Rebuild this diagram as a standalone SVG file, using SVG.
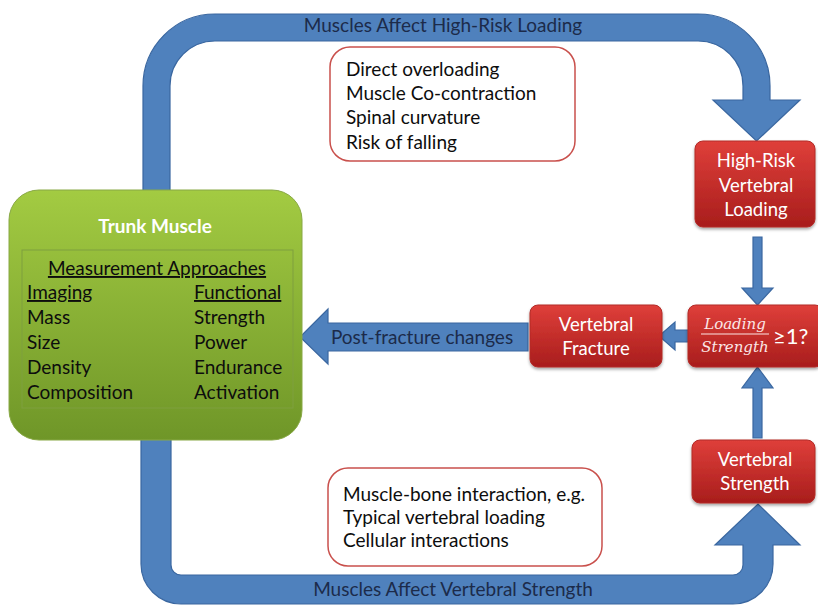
<svg xmlns="http://www.w3.org/2000/svg" width="818" height="605" viewBox="0 0 818 605">
<style>
.blue{fill:#4f81bd;stroke:#3a67a0;stroke-width:1.2}
.red{fill:url(#rg);stroke:#b22a26;stroke-width:1;filter:url(#sh)}
.wt{font-family:Lato,"Open Sans",sans-serif;font-size:18.5px;fill:#ffffff;text-anchor:middle}
.bt{font-family:Lato,"Open Sans",sans-serif;font-size:19px;fill:#0d0d0d}
.nt{font-family:Lato,"Open Sans",sans-serif;font-size:19px;fill:#1c2b4a;text-anchor:middle}
.note{fill:#ffffff;stroke:#c9504c;stroke-width:1.5}
.math{font-family:"DejaVu Serif","Liberation Serif",serif;font-style:italic;font-size:15px;fill:#fbe6e6;text-anchor:middle}
</style>
<defs>
<linearGradient id="rg" x1="0" y1="0" x2="0" y2="1">
<stop offset="0" stop-color="#df3f3a"/>
<stop offset="1" stop-color="#a81d1c"/>
</linearGradient>
<linearGradient id="gg" x1="0" y1="0" x2="0" y2="1">
<stop offset="0" stop-color="#a3cb42"/>
<stop offset="1" stop-color="#6f9628"/>
</linearGradient>
<filter id="sh" x="-10%" y="-10%" width="120%" height="130%">
<feDropShadow dx="0" dy="2" stdDeviation="1.5" flood-color="#000" flood-opacity="0.35"/>
</filter>
</defs>

<g id="connectors">
<path id="top-arrow" class="blue" d="M143 195 L143 86 A72 72 0 0 1 215 14 L698 14 A72 72 0 0 1 770 86 L770 100 L800 100 L756.5 141 L713 100 L743 100 L743 86 A45 45 0 0 0 698 41 L215 41 A45 45 0 0 0 170 86 L170 195 Z"/>
<text class="nt" x="443" y="32">Muscles Affect High-Risk Loading</text>
<path id="bottom-arrow" class="blue" d="M141 435 L141 564 A40 40 0 0 0 181 604 L733 604 A40 40 0 0 0 773 564 L773 545 L800 545 L758 504 L715 545 L743 545 L743 565 A10 10 0 0 1 733 575 L181 575 A10 10 0 0 1 171 565 L171 435 Z"/>
<text class="nt" x="453" y="596">Muscles Affect Vertebral Strength</text>
<path id="down-arrow" class="blue" d="M753 237 L762 237 L762 288 L773 288 L757.5 305 L742 288 L753 288 Z"/>
<path id="up-arrow" class="blue" d="M753 438 L762 438 L762 388 L773 388 L757.5 367 L742 388 L753 388 Z"/>
<path id="left-arrow" class="blue" d="M690 330 L675 330 L675 322 L659 336 L675 350 L675 342 L690 342 Z"/>
<path id="post-fracture" class="blue" d="M528 323 L328 323 L328 309 L300 337 L328 364 L328 351 L528 351 Z"/>
<text class="nt" x="422" y="344">Post-fracture changes</text>
</g>

<g id="trunk-muscle">
<rect x="9" y="190" width="293" height="250" rx="30" fill="url(#gg)" stroke="#88a845" stroke-width="1"/>
<rect x="22" y="250" width="271" height="158" fill="none" stroke="#7f9f3f" stroke-width="1"/>
<text x="155" y="233" font-family="Lato,'Open Sans',sans-serif" font-size="19" font-weight="bold" fill="#ffffff" text-anchor="middle">Trunk Muscle</text>
<text class="bt" x="157" y="275" text-anchor="middle" text-decoration="underline">Measurement Approaches</text>
<text class="bt" x="27" y="299" text-decoration="underline">Imaging</text>
<text class="bt" x="194" y="299" text-decoration="underline">Functional</text>
<text class="bt" x="27" y="324">Mass</text>
<text class="bt" x="27" y="349">Size</text>
<text class="bt" x="27" y="374">Density</text>
<text class="bt" x="27" y="399">Composition</text>
<text class="bt" x="194" y="324">Strength</text>
<text class="bt" x="194" y="349">Power</text>
<text class="bt" x="194" y="374">Endurance</text>
<text class="bt" x="194" y="399">Activation</text>
</g>

<g id="loading-notes">
<rect class="note" x="330" y="47" width="245" height="114" rx="20"/>
<text class="bt" x="346" y="76">Direct overloading</text>
<text class="bt" x="346" y="100">Muscle Co-contraction</text>
<text class="bt" x="346" y="124">Spinal curvature</text>
<text class="bt" x="346" y="149">Risk of falling</text>
</g>

<g id="strength-notes">
<rect class="note" x="328" y="468" width="274" height="98" rx="20"/>
<text class="bt" x="343" y="501">Muscle-bone interaction, e.g.</text>
<text class="bt" x="343" y="524">Typical vertebral loading</text>
<text class="bt" x="343" y="547">Cellular interactions</text>
</g>

<g id="high-risk-loading">
<rect class="red" x="695" y="141" width="120" height="86" rx="8"/>
<text class="wt" x="756" y="167">High-Risk</text>
<text class="wt" x="756" y="192">Vertebral</text>
<text class="wt" x="756" y="216">Loading</text>
</g>

<g id="ratio">
<rect class="red" x="688" y="305" width="135" height="62" rx="8"/>
<text class="math" x="735" y="329">Loading</text>
<line x1="701" y1="334" x2="769" y2="334" stroke="#fbe6e6" stroke-width="1.2"/>
<text class="math" x="735" y="352">Strength</text>
<text x="773" y="344" font-family="Lato,'Open Sans',sans-serif" font-size="22" fill="#ffffff">≥1?</text>
</g>

<g id="vertebral-fracture">
<rect class="red" x="530" y="305" width="132" height="62" rx="8"/>
<text class="wt" x="596" y="331">Vertebral</text>
<text class="wt" x="596" y="355">Fracture</text>
</g>

<g id="vertebral-strength">
<rect class="red" x="692" y="440" width="123" height="63" rx="8"/>
<text class="wt" x="755" y="466">Vertebral</text>
<text class="wt" x="755" y="490">Strength</text>
</g>
</svg>
